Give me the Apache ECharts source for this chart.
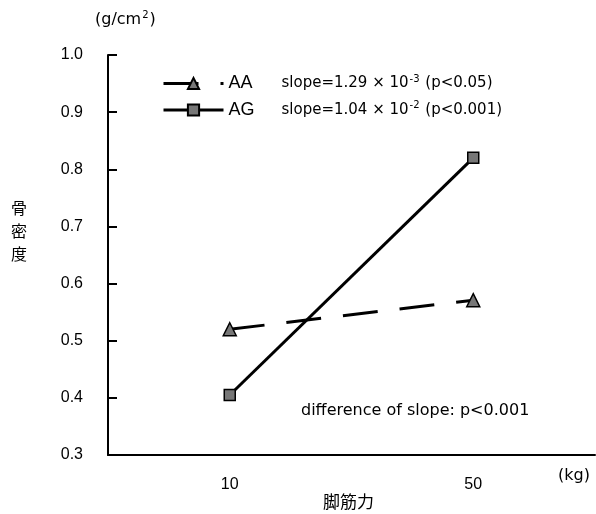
<!DOCTYPE html>
<html lang="ja">

<head>
    <meta charset="UTF-8">
    <title>骨密度</title>
    <style>
        html, body { margin: 0; padding: 0; background: #fff; }
        #main { width: 596px; height: 514px; }
    </style>
</head>

<body>
    <div id="main"></div>
    <script src="https://cdn.jsdelivr.net/npm/echarts@6/dist/echarts.min.js"></script>
    <script>
        // 脚筋力 (kg)
        var categories = ['10', '50'];
        // 骨密度 (g/cm2)
        var aaValues = [0.52, 0.571];
        var agValues = [0.405, 0.82];
        var yTicks = { min: 0.3, max: 1.0, step: 0.1 };

        var font = '"Liberation Sans", Arial, sans-serif';
        var wide = '"DejaVu Sans", sans-serif';
        var cjk = '"Noto Sans CJK JP", "Noto Sans CJK SC", sans-serif';

        var chart = echarts.init(document.getElementById('main'));
        var option = {
            backgroundColor: '#fff',
            animation: false,
            textStyle: { fontFamily: font, color: '#000' },
            grid: { left: 108, right: 1, top: 55, bottom: 59 },
            legend: {
                orient: 'vertical',
                left: 162,
                top: 74,
                padding: 0,
                itemWidth: 60,
                itemHeight: 14,
                itemGap: 8,
                selectedMode: false,
                data: ['AA', 'AG'],
                lineStyle: { width: 3 },
                formatter: function (name) {
                    var s = name === 'AA'
                        ? '{s|slope=1.29 × 10}{sup|-3}{s| (p<0.05)}'
                        : '{s|slope=1.04 × 10}{sup|-2}{s| (p<0.001)}';
                    return '{n|' + name + '}' + s;
                },
                textStyle: {
                    rich: {
                        n: { fontSize: 18, width: 53, color: '#000', fontFamily: font },
                        s: { fontSize: 15, color: '#000', fontFamily: wide },
                        sup: { fontSize: 10, color: '#000', fontFamily: wide, verticalAlign: 'top', padding: [0, 1, 9, 1] }
                    }
                }
            },
            xAxis: {
                type: 'category',
                data: categories,
                boundaryGap: true,
                axisLine: { lineStyle: { color: '#000', width: 2 } },
                axisTick: { show: false },
                axisLabel: { fontSize: 16, color: '#000', margin: 22 },
                splitLine: { show: false }
            },
            yAxis: {
                type: 'value',
                min: yTicks.min,
                max: yTicks.max,
                interval: yTicks.step,
                axisLine: { show: true, lineStyle: { color: '#000', width: 2 } },
                axisTick: { show: true, inside: true, length: 9, lineStyle: { color: '#000', width: 2 } },
                axisLabel: {
                    fontSize: 16, color: '#000', margin: 25,
                    formatter: function (v) { return v.toFixed(1); }
                },
                splitLine: { show: false }
            },
            graphic: [
                {
                    type: 'text', left: 95, top: 10,
                    style: {
                        text: '{a|(g/cm}{b|2}{a|)}',
                        rich: {
                            a: { fontSize: 16, fontFamily: wide, fill: '#000' },
                            b: { fontSize: 10, fontFamily: wide, fill: '#000', verticalAlign: 'top', padding: [0, 1, 9, 1] }
                        }
                    }
                },
                {
                    type: 'text', left: 11, top: 196,
                    style: { text: '骨\n密\n度', font: '16px ' + cjk, fill: '#000', lineHeight: 23 }
                },
                {
                    type: 'text', left: 558, top: 468,
                    style: { text: '(kg)', font: '16px ' + wide, fill: '#000' }
                },
                {
                    type: 'text', left: 323, top: 493,
                    style: { text: '脚筋力', font: '17px ' + cjk, fill: '#000' }
                },
                {
                    type: 'text', left: 301, top: 403,
                    style: { text: 'difference of slope: p<0.001', font: '16px ' + wide, fill: '#000' }
                }
            ],
            series: [
                {
                    name: 'AA',
                    type: 'line',
                    data: aaValues,
                    symbol: 'triangle',
                    symbolSize: 13,
                    itemStyle: { color: '#777', borderColor: '#000', borderWidth: 1.5 },
                    lineStyle: { color: '#000', width: 3, type: [35, 22] }
                },
                {
                    name: 'AG',
                    type: 'line',
                    data: agValues,
                    symbol: 'rect',
                    symbolSize: 11,
                    itemStyle: { color: '#777', borderColor: '#000', borderWidth: 1.5 },
                    lineStyle: { color: '#000', width: 3 }
                }
            ]
        };
        chart.setOption(option);
    </script>
</body>

</html>
